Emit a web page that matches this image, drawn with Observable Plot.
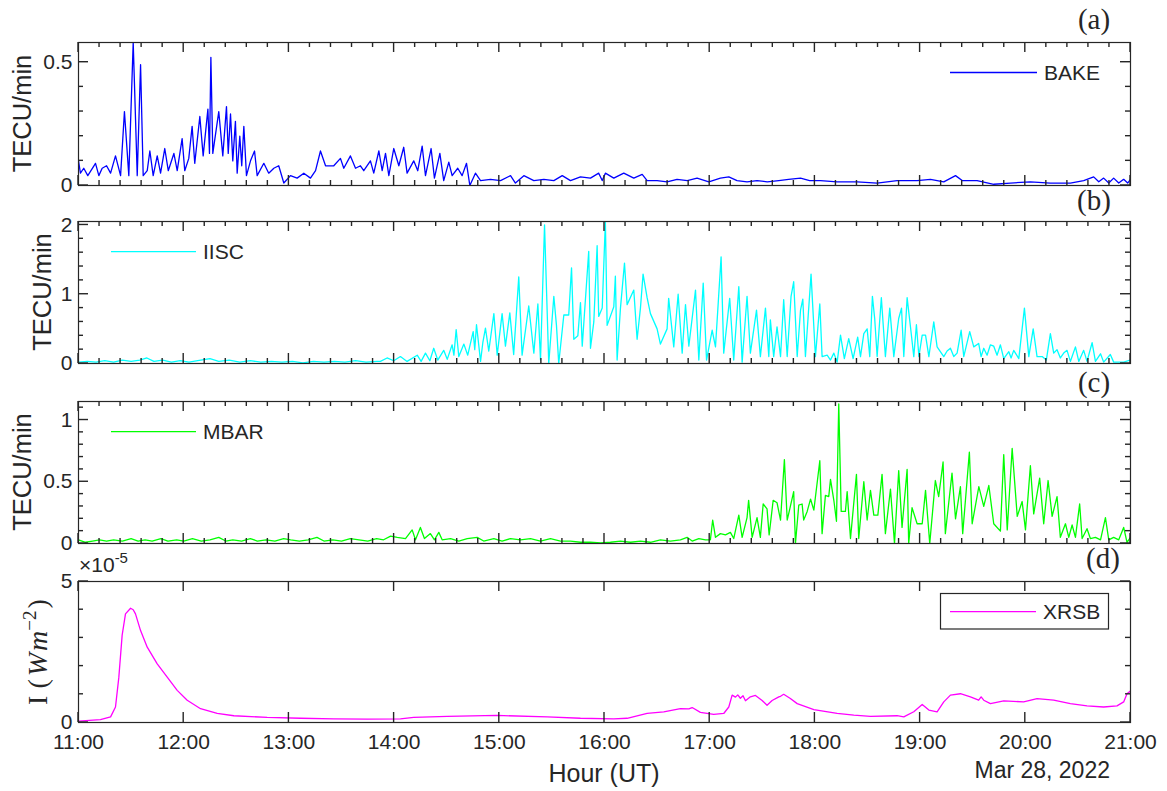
<!DOCTYPE html>
<html><head><meta charset="utf-8">
<script src="https://cdn.jsdelivr.net/npm/d3@7"></script>
<script src="https://cdn.jsdelivr.net/npm/@observablehq/plot@0.6"></script>
<style>
html,body{margin:0;padding:0;background:#fff;}
#wrap{position:relative;width:1167px;height:791px;overflow:hidden;background:#fff;}
#wrap > svg{position:absolute;left:0;}
</style></head><body><div id="wrap"></div>
<script>
// ---- data: [minutes after 11:00 UT, value] ----
const bake = [[0,.10],[1.1,.05],[3,.07],[5.3,.04],[9.7,.09],[11.6,.04],[13.5,.07],[16,.08],[18.3,.05],[21.1,.12],[24,.04],[26.2,.30],[28.7,.04],[31.2,.58],[33.5,.04],[35.4,.49],[36.9,.04],[39.2,.06],[40.7,.14],[42.6,.04],[44.9,.12],[46.8,.05],[49.2,.15],[51.2,.06],[54.4,.13],[56.3,.06],[59.1,.19],[60.6,.06],[62.9,.11],[64.8,.24],[66.3,.09],[69.2,.28],[71.1,.12],[73.8,.31],[74.7,.13],[75.5,.52],[76.6,.13],[80,.30],[82.3,.12],[84.4,.32],[85.4,.13],[86.7,.29],[88,.10],[89.5,.26],[90.5,.05],[92,.20],[93.1,.08],[94.3,.24],[95.8,.04],[98.1,.10],[100.4,.14],[101.9,.04],[105.7,.09],[108.5,.05],[111.4,.07],[114.2,.08],[117.1,.01],[120.9,.04],[124.7,.03],[128.5,.05],[132.3,.03],[135.2,.06],[138,.14],[140.9,.08],[145.6,.08],[149.4,.11],[151.3,.07],[155.1,.12],[158,.07],[160.8,.08],[162.7,.06],[166.5,.10],[168.4,.05],[171.3,.14],[173.2,.06],[175.1,.13],[177,.04],[179.8,.15],[182.7,.08],[185.5,.155],[187.4,.05],[191.2,.10],[193.5,.06],[196,.16],[197.9,.04],[201.1,.15],[203,.03],[206.1,.13],[208.3,.02],[211.2,.095],[213.1,.04],[216.3,.07],[218.8,.04],[221.3,.09],[223.2,0],[226.4,.05],[229.3,.02],[235,.025],[240.7,.02],[246.4,.04],[249.2,.01],[254,.04],[259.7,.02],[265.4,.025],[271.1,.02],[275.9,.04],[280.6,.02],[286.3,.035],[292,.03],[296.7,.05],[298.7,.02],[300.5,.05],[305.3,.03],[311,.05],[316.7,.03],[321.5,.045],[324.3,.02],[330,.02],[335.7,.015],[341.4,.025],[347.2,.02],[352.8,.03],[359.5,.015],[366.1,.03],[370.9,.035],[375.6,.02],[381.3,.015],[387,.02],[392.8,.015],[399.4,.02],[405,.025],[411.8,.03],[417,.02],[423.2,.02],[432.7,.015],[444.1,.015],[455.5,.01],[466.9,.02],[478.3,.02],[485.9,.025],[493.5,.015],[500.2,.04],[504,.02],[512.5,.02],[522,.005],[531.5,.01],[542.9,.015],[554.3,.01],[565.7,.01],[573.3,.02],[579,.035],[581.9,.015],[584.7,.03],[587.6,.01],[590.4,.03],[593.3,.01],[596.1,.025],[598.4,.01],[600,.025]];

const iisc = [[0,.02],[5,.03],[10,.02],[15,.04],[20,.02],[25,.05],[30,.03],[35,.05],[39,.08],[43,.03],[48,.05],[53,.02],[58,.04],[63,.02],[68,.04],[75,.07],[80,.03],[86,.05],[92,.02],[98,.04],[104,.02],[110,.03],[116,.02],[122,.03],[128,.01],[134,.03],[140,.02],[146,.03],[152,.02],[158,.04],[164,.02],[170,.03],[172.2,.03],[176,.08],[179.8,.04],[183.6,.10],[187.4,.03],[193.2,.12],[195.4,.03],[197.9,.15],[200.4,.04],[202.6,.22],[204.9,.05],[208.3,.19],[210.3,.06],[213.1,.27],[214.1,.12],[215.4,.49],[216.9,.10],[219.8,.28],[222,.12],[225.1,.46],[226,.20],[227,.56],[229.3,.03],[230.6,.30],[232.1,.51],[234,.18],[236.9,.72],[238.8,.12],[241.6,.72],[243.5,.25],[246,.73],[248.2,.13],[251.1,1.25],[253,.12],[256.8,.83],[259.7,.15],[262,.86],[263.5,.05],[265.8,2.0],[268.2,0],[271.1,.97],[272.6,.55],[273.9,0],[276.8,.70],[279.6,.70],[281.2,1.38],[282.5,.35],[284.8,.40],[286.3,.88],[287.3,.25],[291,1.62],[292,.22],[293.9,.60],[295.8,1.70],[296.7,.68],[298.7,.80],[300.5,2.05],[301.5,.55],[305.3,.82],[306.2,1.26],[307.2,.05],[309.1,.80],[311.4,1.45],[312.9,.85],[316.7,1.06],[318.6,.35],[320.5,.80],[322,1.29],[324.3,.95],[326.2,.72],[330,.50],[331.9,.28],[335.7,.50],[336.6,.94],[339.5,.24],[342,1.00],[344.3,.15],[346.2,.85],[348.1,.25],[351.9,1.06],[353.8,.05],[356.3,1.16],[358.2,.05],[361.4,.48],[363.3,.24],[366.5,1.54],[368,.15],[371.4,.94],[373.7,.05],[376.6,1.11],[378.5,.02],[381.3,.97],[383.2,.15],[386.7,.77],[388.9,.10],[391.8,.80],[393.7,.10],[394.6,.63],[396.5,.10],[398.4,.53],[400.4,.10],[402.2,.92],[404.2,.10],[406.4,.97],[407.9,1.18],[409.9,.10],[411.8,.77],[413.1,.93],[414.6,.10],[417.8,1.29],[420.3,.10],[422.8,.86],[424.1,.10],[427,.12],[428.9,.05],[430.8,.15],[432.7,.02],[434.6,.41],[436.8,.07],[439.3,.36],[441.8,.07],[444.4,.38],[446,.10],[447.9,.43],[449.8,.50],[451.3,.10],[452.8,.97],[454.1,.65],[455.5,.10],[457.9,.95],[460.2,.10],[462.7,.80],[465,.10],[467.8,.65],[469.4,.80],[470.7,.10],[472.6,.95],[474.5,.53],[476.4,.10],[477.9,.56],[479.3,.10],[481.2,.41],[483.1,.41],[485,.10],[487.8,.60],[489.7,.24],[493.5,.10],[495.4,.18],[497.3,.22],[499.2,.10],[501.1,.15],[503.4,.48],[504.9,.10],[508.3,.46],[510.6,.24],[513.4,.29],[514.8,.10],[516.3,.22],[518.2,.12],[520.1,.27],[522,.25],[523.9,.12],[525.8,.27],[527.7,.07],[530.6,.17],[531.9,.08],[533.4,.19],[536.3,.07],[539.5,.80],[542,.10],[544.5,.50],[546.7,.10],[549.6,.10],[552,.05],[554.3,.43],[556.2,.15],[558.1,.20],[560,.08],[561.9,.15],[563.8,.19],[565.7,.03],[568.6,.24],[570.5,.03],[573.3,.19],[575.2,.03],[578.1,.30],[580,.03],[582.9,.14],[584.7,.02],[588.5,.13],[590.4,.02],[596.1,.02],[600,.05]];

const mbar = [[0,.03],[4,.01],[8,.02],[12,.03],[16,.02],[20,.03],[25,.02],[30,.04],[34,.02],[38,.03],[42,.02],[47,.04],[51,.02],[56,.03],[60,.02],[65,.04],[70,.02],[75,.03],[80,.05],[84,.02],[88,.03],[93,.02],[98,.04],[102,.02],[107,.03],[112,.02],[117,.04],[121,.03],[126,.02],[131,.03],[136,.05],[140,.02],[145,.03],[150,.02],[155,.04],[160,.03],[165,.02],[170,.04],[174,.03],[178,.06],[181.8,.05],[186.5,.04],[190.3,.11],[192.2,.03],[195,.13],[197.3,.04],[200.7,.08],[203,.03],[205.5,.09],[207.4,.03],[212.2,.04],[216.9,.02],[221.7,.04],[227.4,.05],[231.1,.02],[236.9,.04],[241.6,.02],[246.4,.04],[252.1,.03],[257.8,.04],[263.5,.02],[269.2,.04],[274.9,.02],[280.6,.02],[286.3,.01],[292,.01],[297.7,.005],[303.4,.01],[309.1,.02],[314.8,.01],[320.5,.02],[326.2,.01],[331.9,.03],[337.6,.02],[343.3,.03],[347.1,.05],[350,.02],[353.8,.04],[357.6,.03],[360.4,.03],[361.7,.19],[363.3,.05],[366.1,.08],[369,.07],[371.8,.09],[373.7,.04],[376.6,.23],[378.5,.05],[381.3,.21],[382.2,.35],[384.2,.05],[387,.21],[388.9,.05],[390.5,.32],[392.7,.28],[393.9,.07],[396.2,.35],[398.4,.33],[400.4,.19],[402.6,.68],[404.2,.19],[406,.30],[407.9,.42],[408.9,0],[410.8,.31],[412.7,.32],[413.6,.19],[415.6,.26],[417.5,.36],[419.4,.27],[422.8,.67],[424.1,.08],[426,.39],[427.9,.38],[428.9,.52],[430.8,.35],[432.3,.18],[433.6,1.13],[435,.26],[437.4,.26],[438.4,.42],[440.3,.04],[443.7,.56],[445,.04],[447.9,.50],[449.8,.19],[451.7,.43],[453.6,.23],[455.9,.23],[458.3,.56],[460.2,.08],[463.1,.44],[465.4,0],[467.8,.59],[469.7,.13],[472.6,.60],[473.5,0],[475.4,.29],[478.3,.16],[481.2,.16],[483.1,.43],[485.5,0],[488.7,.51],[490.6,.38],[493.1,.66],[494.4,.08],[498.2,.57],[500.2,.20],[503,.46],[504.3,.08],[508.1,.74],[509.7,.16],[513.5,.46],[516.3,.30],[519.2,.47],[522,.16],[525.8,.10],[527.7,.72],[529.7,.11],[532.5,.77],[535.4,.22],[538.2,.34],[540.1,.11],[542.9,.63],[544.8,.24],[548.2,.53],[550.5,.16],[553,.51],[555.3,.22],[558.1,.38],[560,.05],[562.9,.16],[564.8,.05],[566.7,.15],[568.6,.05],[571,.32],[572.4,.04],[575.2,.12],[577.1,.04],[580,.05],[582.9,.03],[585.7,.21],[587.6,.03],[590.4,.05],[593.3,.03],[596.1,.13],[598,.01],[600,.05]];

// XRSB flux in units of 1e-5 W m^-2
const xrsbE5 = [[0,.05],[12.5,.10],[18.3,.20],[21.1,.55],[23,1.6],[24.9,3.1],[26.8,3.85],[29.7,4.05],[31.2,4.0],[32.5,3.85],[35.4,3.26],[39.2,2.67],[44.9,2.08],[50.6,1.61],[56.3,1.14],[62,.79],[69.6,.49],[79.1,.32],[88.6,.24],[107.6,.18],[126.6,.15],[145.6,.13],[164.6,.12],[183.6,.13],[191.2,.18],[210.3,.22],[238.8,.25],[267.3,.20],[286.3,.15],[305.3,.13],[312.9,.15],[324.3,.32],[333.8,.38],[343.3,.49],[348.1,.48],[350,.53],[354.7,.36],[362.3,.29],[368,.32],[370.9,.55],[372.8,.97],[374.7,.90],[376,.98],[377.5,.86],[379,.95],[380.4,.77],[383.2,.91],[386.1,.96],[389.9,.78],[392.7,.61],[395.6,.78],[399.4,.91],[400.4,.93],[402.2,1.0],[406,.85],[409.9,.67],[419.4,.46],[432.7,.32],[442.2,.26],[451.7,.22],[466.9,.24],[470.7,.20],[476.4,.38],[481.2,.64],[485,.44],[489.7,.38],[493.5,.73],[497.3,.97],[503,1.02],[508.7,.91],[513.4,.79],[514.8,.91],[516.3,.79],[520.1,.67],[527.7,.77],[539.1,.73],[546.7,.85],[556.2,.79],[565.7,.67],[575.2,.59],[584.7,.55],[592.3,.59],[596.1,.73],[598,1.02],[600,1.12]];

const hourTicks = [0,60,120,180,240,300,360,420,480,540,600];
const hourLabels = ["11:00","12:00","13:00","14:00","15:00","16:00","17:00","18:00","19:00","20:00","21:00"];
const names = ["BAKE","IISC","MBAR","XRSB"];
const colors = ["#0000ff","#00ffff","#00ff00","#ff00ff"];

const ink = "#262626";
const sans = "'Liberation Sans', Arial, Helvetica, sans-serif";
const serif = "'Liberation Serif', 'DejaVu Serif', serif";
const minorX = d3.range(0, 601, 12).filter(m => m % 60 !== 0);
const W = 1167, ML = 78, MR = 37;

const NS = "http://www.w3.org/2000/svg";
const ov = document.createElementNS(NS, "svg");
ov.setAttribute("width", W); ov.setAttribute("height", 791);
ov.style.top = "0px";
function el(tag, attrs, text, parent) {
  const e = document.createElementNS(NS, tag);
  for (const k in attrs) e.setAttribute(k, attrs[k]);
  if (text != null) e.textContent = text;
  (parent || ov).appendChild(e);
  return e;
}
const tickLayer = el("g", {stroke: ink, "stroke-width": 1.4});

// inward ticks placed with each panel's own Plot scales
function drawTicks(svg, top, xMajor, xMinor, yMajor, yMinor) {
  const sx = svg.scale("x"), sy = svg.scale("y");
  const x0 = sx.range[0], x1 = sx.range[1], y0 = sy.range[0], y1 = sy.range[1];
  const seg = (a, b, c, d) => el("line", {x1: a, y1: b + top, x2: c, y2: d + top, stroke: ink, "stroke-width": 1.4}, null, tickLayer);
  const xt = (ticks, len) => ticks.forEach(v => { const x = sx.apply(v); seg(x, y0, x, y0 - len); seg(x, y1, x, y1 + len); });
  const yt = (ticks, len) => ticks.forEach(v => { const y = sy.apply(v); seg(x0, y, x0 + len, y); seg(x1, y, x1 - len, y); });
  xt(xMajor, 10); xt(xMinor, 5); yt(yMajor, 10); yt(yMinor, 5);
}

function panel({data, color, yDomain, yMajor, yMinor, top, height, mt, mb, xLabels, xMinor}) {
  const marks = [
    Plot.line(data, {x: d => d[0], y: d => d[1], stroke: color, strokeWidth: 1.3, clip: true}),
    Plot.axisY({anchor: "left", ticks: yMajor, tickSize: 0, tickPadding: 6, fill: ink, label: null, tickFormat: d => String(d)}),
    Plot.frame({stroke: ink, strokeWidth: 1.2})
  ];
  if (xLabels) {
    marks.push(Plot.axisX({anchor: "bottom", ticks: hourTicks, tickSize: 0, tickPadding: 12, fill: ink, label: null,
      tickFormat: d => hourLabels[hourTicks.indexOf(d)]}));
  } else {
    marks.push(Plot.axisX({ticks: [], label: null}));
  }
  const svg = Plot.plot({
    width: W, height,
    marginLeft: ML, marginRight: MR, marginTop: mt, marginBottom: mb,
    x: {domain: [0, 600]},
    y: {domain: yDomain},
    style: {fontFamily: sans, fontSize: "21px", color: ink, background: "transparent", overflow: "visible"},
    marks
  });
  svg.style.top = top + "px";
  drawTicks(svg, top, hourTicks, xMinor ? minorX : [], yMajor, yMinor);
  return svg;
}

const wrap = document.getElementById("wrap");
wrap.appendChild(panel({data: bake, color: colors[0], yDomain: [0, 0.58], yMajor: [0, 0.5], yMinor: [0.1,0.2,0.3,0.4],
  top: 0, height: 200, mt: 42, mb: 15, xLabels: false, xMinor: true}));
wrap.appendChild(panel({data: iisc, color: colors[1], yDomain: [0, 2.05], yMajor: [0, 1, 2], yMinor: [0.2,0.4,0.6,0.8,1.2,1.4,1.6,1.8],
  top: 200, height: 180, mt: 21, mb: 17, xLabels: false, xMinor: true}));
wrap.appendChild(panel({data: mbar, color: colors[2], yDomain: [0, 1.15], yMajor: [0, 0.5, 1], yMinor: [0.1,0.2,0.3,0.4,0.6,0.7,0.8,0.9,1.1],
  top: 380, height: 180, mt: 21, mb: 17, xLabels: false, xMinor: true}));
wrap.appendChild(panel({data: xrsbE5, color: colors[3], yDomain: [0, 5], yMajor: [0, 5], yMinor: [1,2,3,4],
  top: 560, height: 231, mt: 21, mb: 69, xLabels: true, xMinor: false}));

// ---- annotations (titles, legends, labels) ----
[["(a)",1094,29],["(b)",1094,210],["(c)",1094,392],["(d)",1103,568]].forEach(([t,x,y]) =>
  el("text", {x, y, "text-anchor": "middle", "font-family": serif, "font-size": 29, fill: ink}, t));
[[31,113.5],[51,292],[31,472]].forEach(([x,y]) =>
  el("text", {x: 0, y: 0, transform: `translate(${x},${y}) rotate(-90)`, "text-anchor": "middle", "font-family": sans, "font-size": 25.5, fill: ink}, "TECU/min"));
const yl = el("text", {x: 0, y: 0, transform: `translate(47,652) rotate(-90)`, "text-anchor": "middle", "font-family": serif, "font-size": 28, fill: ink});
el("tspan", {}, "I (", yl);
el("tspan", {"font-style": "italic", dx: 3}, "W", yl);
el("tspan", {"font-style": "italic", dx: 2}, "m", yl);
el("tspan", {dy: -11, "font-size": 19}, "\u22122", yl);
el("tspan", {dy: 11, dx: 2}, ")", yl);
const ex = el("text", {x: 79, y: 572, "font-family": sans, "font-size": 21, fill: ink});
el("tspan", {}, "\u00d710", ex);
el("tspan", {dy: -9, "font-size": 15}, "-5", ex);
el("line", {x1: 950, x2: 1037, y1: 72.5, y2: 72.5, stroke: colors[0], "stroke-width": 1.3});
el("text", {x: 1044, y: 80, "font-family": sans, "font-size": 21, fill: ink}, names[0]);
el("line", {x1: 111, x2: 196, y1: 251.7, y2: 251.7, stroke: colors[1], "stroke-width": 1.3});
el("text", {x: 203, y: 259.2, "font-family": sans, "font-size": 21, fill: ink}, names[1]);
el("line", {x1: 111, x2: 196, y1: 431.7, y2: 431.7, stroke: colors[2], "stroke-width": 1.3});
el("text", {x: 203, y: 439.2, "font-family": sans, "font-size": 21, fill: ink}, names[2]);
el("rect", {x: 940.5, y: 593.5, width: 168, height: 35.5, fill: "#fff", stroke: ink, "stroke-width": 1.2});
el("line", {x1: 950, x2: 1036, y1: 611.7, y2: 611.7, stroke: colors[3], "stroke-width": 1.3});
el("text", {x: 1043, y: 619.2, "font-family": sans, "font-size": 21, fill: ink}, names[3]);
el("text", {x: 604, y: 782, "text-anchor": "middle", "font-family": sans, "font-size": 25, fill: ink}, "Hour (UT)");
el("text", {x: 1110, y: 778, "text-anchor": "end", "font-family": sans, "font-size": 23, fill: ink}, "Mar 28, 2022");
wrap.appendChild(ov);
</script></body></html>
